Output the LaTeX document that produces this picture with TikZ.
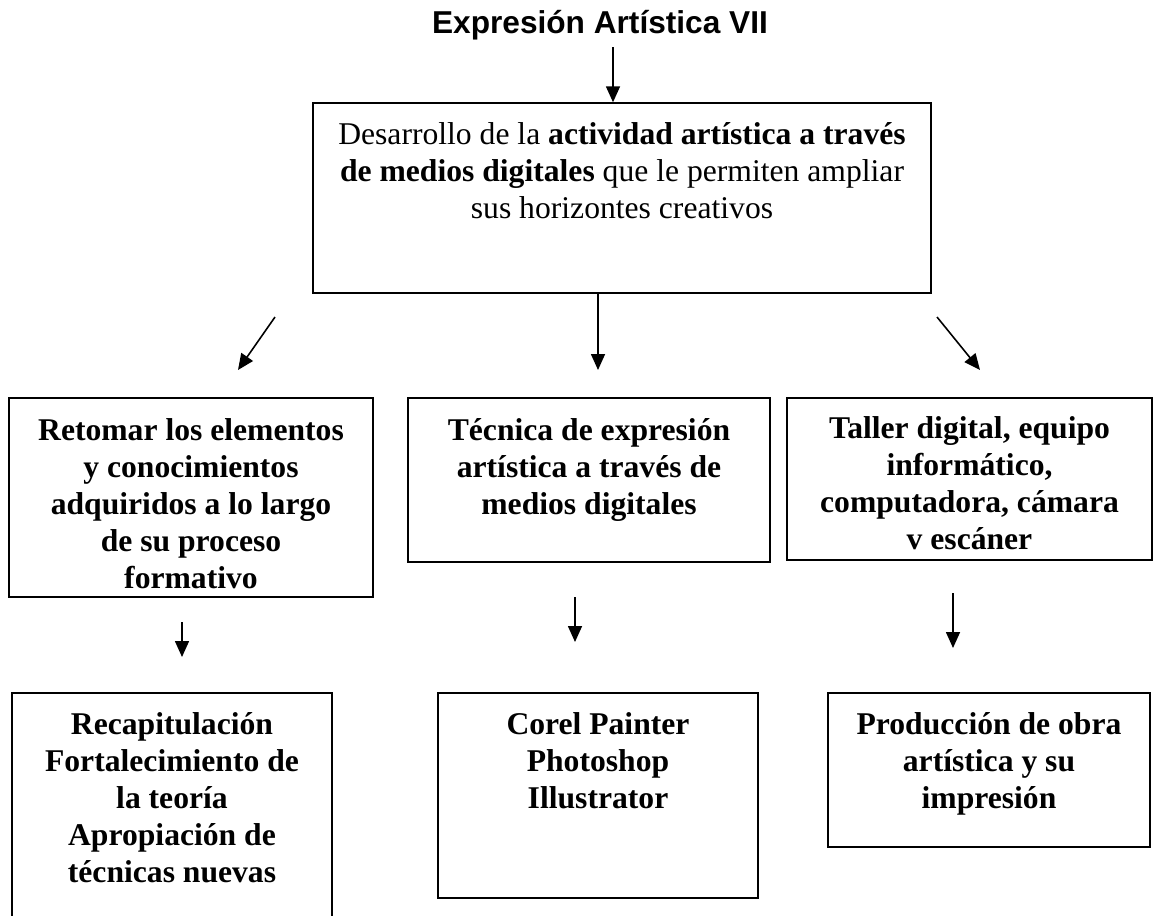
\documentclass[tikz,border=0pt]{standalone}
\usepackage{fontspec}
\setmainfont{Liberation Serif}
\newfontfamily\titlefont{Liberation Sans}
\usepackage{tikz}
\usetikzlibrary{arrows.meta, positioning}

\begin{document}
\begin{tikzpicture}[
    box/.style={draw, line width=0.8pt, inner sep=0pt},
    txt/.style={align=center, inner sep=0pt, font=\fontsize{18}{21}\selectfont\bfseries},
    toptxt/.style={align=center, inner sep=0pt, font=\fontsize{18}{21}\selectfont},
    arr/.style={-{Triangle[length=0.32cm, width=0.28cm]}, line width=0.9pt}
]
\useasboundingbox (0,0) rectangle (23.1,-18.3);

% Title
\node[anchor=base, inner sep=0pt, font=\titlefont\bfseries\fontsize{18}{21}\selectfont] (title) at (12.0,-0.66) {Expresión Artística VII};

% Top box
\node[box, minimum width=12.36cm, minimum height=3.80cm] (top) at (12.44,-3.96) {};
\node[toptxt, below=0.40cm of top.north] (toptext) {Desarrollo de la \textbf{actividad artística a través}\\
\textbf{de medios digitales} que le permiten ampliar\\
sus horizontes creativos};

% Row 2
\node[box, minimum width=7.28cm, minimum height=3.98cm] (retomar) at (3.82,-9.95) {};
\node[txt, below=0.42cm of retomar.north] (retomartext) {Retomar los elementos\\ y conocimientos\\ adquiridos a lo largo\\ de su proceso\\ formativo};

\node[box, minimum width=7.24cm, minimum height=3.28cm] (tecnica) at (11.78,-9.60) {};
\node[txt, below=0.42cm of tecnica.north] (tecnicatext) {Técnica de expresión\\ artística a través de\\ medios digitales};

\node[box, minimum width=7.30cm, minimum height=3.24cm] (taller) at (19.39,-9.58) {};
\node[txt, below=0.38cm of taller.north] (tallertext) {Taller digital, equipo\\ informático,\\ computadora, cámara\\ v escáner};

% Row 3
\node[box, minimum width=6.40cm, minimum height=4.74cm] (recap) at (3.44,-16.23) {};
\node[txt, below=0.40cm of recap.north] (recaptext) {Recapitulación\\ Fortalecimiento de\\ la teoría\\ Apropiación de\\ técnicas nuevas};

\node[box, minimum width=6.40cm, minimum height=4.10cm] (corel) at (11.96,-15.91) {};
\node[txt, below=0.40cm of corel.north] (coreltext) {Corel Painter\\ Photoshop\\ Illustrator};

\node[box, minimum width=6.44cm, minimum height=3.08cm] (produccion) at (19.78,-15.40) {};
\node[txt, below=0.40cm of produccion.north] (producciontext) {Producción de obra\\ artística y su\\ impresión};

% Arrow ends
\coordinate (t0) at (12.26,-0.94);
\coordinate (l1s) at (5.50,-6.34);  \coordinate (l1e) at (4.76,-7.40);
\coordinate (m1) at (11.96,-7.40);
\coordinate (r1s) at (18.74,-6.34); \coordinate (r1e) at (19.60,-7.40);
\coordinate (l2s) at (3.64,-12.44); \coordinate (l2e) at (3.64,-13.14);
\coordinate (m2s) at (11.50,-11.94); \coordinate (m2e) at (11.50,-12.84);
\coordinate (r2s) at (19.06,-11.86); \coordinate (r2e) at (19.06,-12.96);

% Arrows
\draw[arr] (t0) -- (t0 |- top.north);
\draw[arr] (l1s) -- (l1e);
\draw[arr] (m1 |- top.south) -- (m1);
\draw[arr] (r1s) -- (r1e);
\draw[arr] (l2s) -- (l2e);
\draw[arr] (m2s) -- (m2e);
\draw[arr] (r2s) -- (r2e);

\end{tikzpicture}
\end{document}
